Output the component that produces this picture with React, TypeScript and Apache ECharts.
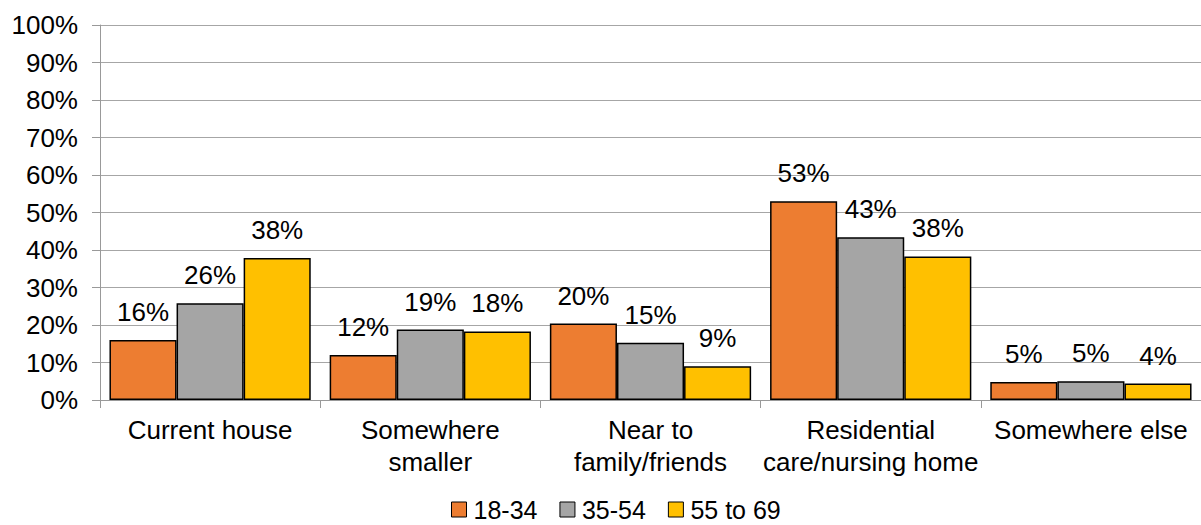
import React, { useEffect, useRef } from "react";
import * as echarts from "echarts";

const categories = [
  "Current house",
  "Somewhere\nsmaller",
  "Near to\nfamily/friends",
  "Residential\ncare/nursing home",
  "Somewhere else",
];
const seriesNames = ["18-34", "35-54", "55 to 69"];
const age18to34 = [16, 12, 20.4, 53, 4.8];
const age35to54 = [25.8, 18.8, 15.3, 43.4, 5];
const age55to69 = [37.9, 18.3, 9, 38.3, 4.4];
const colors = ["#ED7D31", "#A5A5A5", "#FFC000"];
const yTicks = [0, 10, 20, 30, 40, 50, 60, 70, 80, 90, 100];

export default function App() {
  const ref = useRef<HTMLDivElement>(null);
  useEffect(() => {
    document.body.style.margin = "0";
    const chart = echarts.init(ref.current!, null, { renderer: "svg" });
    const font = "Liberation Sans, Arial, sans-serif";
    const data = [age18to34, age35to54, age55to69];
    chart.setOption({
      animation: false,
      textStyle: { fontFamily: font },
      grid: { left: 100, right: 0, top: 25, bottom: 125, containLabel: false },
      legend: {
        top: 497,
        left: 451,
        padding: 0,
        itemWidth: 15,
        itemHeight: 15,
        itemGap: 22,
        icon: "rect",
        textStyle: {
          fontSize: 25,
          lineHeight: 21,
          color: "#000",
          fontFamily: font,
          padding: [0, 0, 0, 2],
        },
        data: seriesNames,
        itemStyle: { borderColor: "#000", borderWidth: 1 },
      },
      xAxis: {
        type: "category",
        data: categories,
        axisLine: { lineStyle: { color: "#999", width: 1 } },
        axisTick: { show: true, length: 8, alignWithLabel: false, lineStyle: { color: "#999" } },
        axisLabel: {
          fontSize: 26,
          color: "#000",
          fontFamily: font,
          lineHeight: 32,
          margin: 14,
          interval: 0,
        },
      },
      yAxis: {
        type: "value",
        min: yTicks[0],
        max: yTicks[yTicks.length - 1],
        interval: 10,
        axisLine: { show: true, lineStyle: { color: "#999" } },
        axisTick: { show: true, length: 8, lineStyle: { color: "#999" } },
        splitLine: { lineStyle: { color: "#A6A6A6", width: 1 } },
        axisLabel: {
          fontSize: 26,
          color: "#000",
          fontFamily: font,
          margin: 22,
          formatter: (v: number) => v + "%",
        },
      },
      series: seriesNames.map((name, i) => ({
        name,
        type: "bar",
        data: data[i],
        barGap: "0%",
        barCategoryGap: "8.6%",
        itemStyle: { color: colors[i], borderColor: "#000", borderWidth: 1.5 },
        label: {
          show: true,
          position: "top",
          distance: 15,
          fontSize: 26,
          color: "#000",
          fontFamily: font,
          formatter: (p: any) => Math.round(p.value) + "%",
        },
      })),
    });
    return () => chart.dispose();
  }, []);
  return <div ref={ref} style={{ width: 1201, height: 525 }} />;
}
